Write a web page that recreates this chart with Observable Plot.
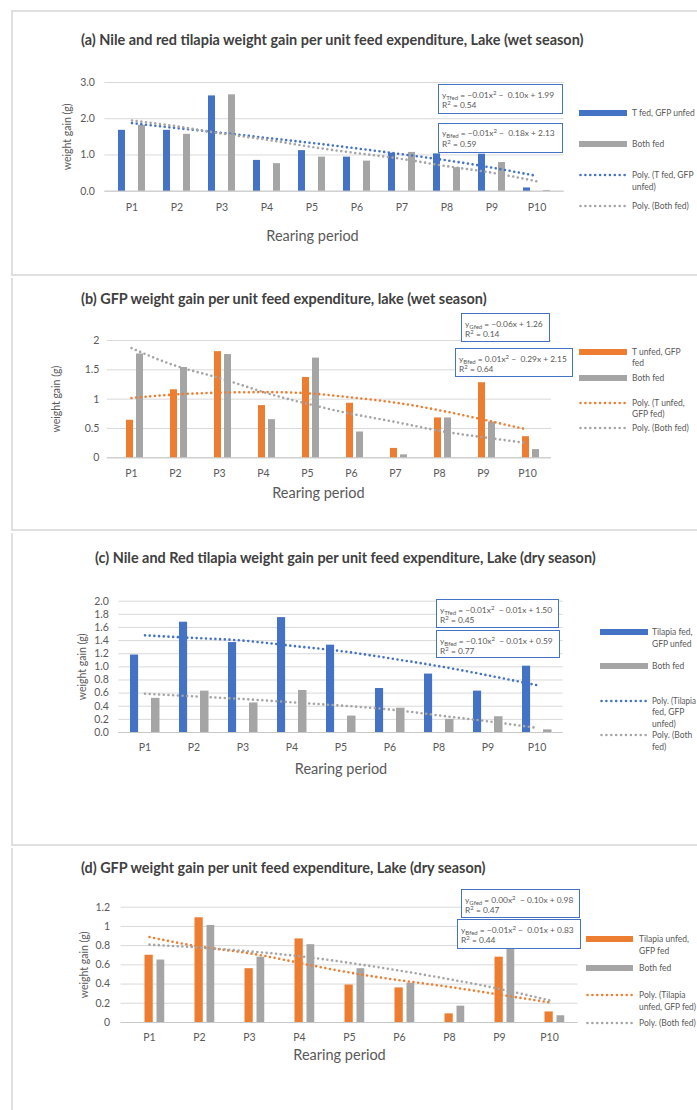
<!DOCTYPE html>
<html><head><meta charset="utf-8">
<script src="https://cdn.jsdelivr.net/npm/d3@7"></script>
<script src="https://cdn.jsdelivr.net/npm/@observablehq/plot@0.6"></script>
<style>
html,body{margin:0;padding:0;background:#fff;}
#page{position:relative;width:697px;height:1110px;overflow:hidden;font-family:Lato,"Open Sans",sans-serif;color:#595959;}
.panel{position:absolute;left:11px;width:720px;border-left:2px solid #e0e0e0;border-bottom:2px solid #e0e0e0;box-sizing:border-box;}
.title{position:absolute;font-weight:700;color:#404040;white-space:nowrap;line-height:16px;font-size:13px;}
.lg{position:absolute;white-space:nowrap;font-size:8.5px;line-height:12px;transform-origin:0 50%;}
.sw{position:absolute;height:6px;}
.eq{position:absolute;background:#fff;border:1.3px solid #4472c4;box-sizing:border-box;font-size:8.4px;line-height:10.5px;white-space:nowrap;padding:4.5px 0 0 3px;}
.eq sub{font-size:0.72em;vertical-align:-0.25em;line-height:0;}
.eq sup{font-size:0.72em;vertical-align:0.45em;line-height:0;}
</style></head><body><div id="page"></div>
<script>
// ---------- data ----------
const periodsWet = ["P1","P2","P3","P4","P5","P6","P7","P8","P9","P10"];
const periodsDry = ["P1","P2","P3","P4","P5","P6","P8","P9","P10"];

// (a) Nile and red tilapia, wet season
const aTfed      = [1.68,1.68,2.63,0.85,1.12,0.94,1.05,1.03,1.02,0.09];
const aBoth      = [1.82,1.57,2.66,0.76,0.94,0.83,1.07,0.65,0.79,0.02];
const aTfedTrend = [1.88,1.74,1.61,1.47,1.33,1.18,1.02,0.85,0.65,0.42];
const aBothTrend = [1.95,1.79,1.59,1.42,1.22,1.05,0.89,0.69,0.51,0.27];

// (b) GFP, wet season
const bGfed      = [0.64,1.16,1.81,0.89,1.37,0.93,0.16,0.68,1.28,0.36];
const bBoth      = [1.77,1.54,1.76,0.65,1.70,0.44,0.05,0.68,0.61,0.14];
const bGfedTrend = [1.02,1.08,1.11,1.12,1.10,1.03,0.94,0.81,0.65,0.48];
const bBothTrend = [1.87,1.57,1.36,1.12,0.92,0.75,0.61,0.46,0.35,0.25];

// (c) Nile and red tilapia, dry season
const cTfed      = [1.18,1.68,1.37,1.75,1.33,0.67,0.89,0.63,1.01];
const cBoth      = [0.52,0.63,0.45,0.64,0.25,0.37,0.20,0.24,0.04];
const cTfedTrend = [1.48,1.44,1.40,1.32,1.24,1.13,1.01,0.87,0.72];
const cBothTrend = [0.59,0.55,0.51,0.46,0.41,0.35,0.26,0.17,0.07];

// (d) GFP, dry season
const dGfed      = [0.70,1.09,0.56,0.87,0.39,0.36,0.09,0.68,0.11];
const dBoth      = [0.65,1.01,0.68,0.81,0.56,0.41,0.17,0.80,0.07];
const dGfedTrend = [0.89,0.79,0.72,0.62,0.52,0.44,0.37,0.29,0.21];
const dBothTrend = [0.81,0.78,0.74,0.69,0.62,0.54,0.45,0.35,0.23];

// tick values
const ticksA = [0,1,2,3];
const ticksB = [0,0.5,1,1.5,2];
const ticksC = [0,0.2,0.4,0.6,0.8,1.0,1.2,1.4,1.6,1.8,2.0];
const ticksD = [0,0.2,0.4,0.6,0.8,1,1.2];

// texts
const titles = [
  "(a) Nile and red tilapia weight gain per unit feed expenditure, Lake (wet season)",
  "(b) GFP weight gain per unit feed expenditure, lake (wet season)",
  "(c) Nile and Red tilapia weight gain per unit feed expenditure, Lake (dry season)",
  "(d) GFP weight gain per unit feed expenditure, Lake (dry season)"
];
const legendA = [["T fed, GFP unfed"],["Both fed"],["Poly. (T fed, GFP","unfed)"],["Poly. (Both fed)"]];
const legendB = [["T unfed, GFP","fed"],["Both fed"],["Poly. (T unfed,","GFP fed)"],["Poly. (Both fed)"]];
const legendC = [["Tilapia fed,","GFP unfed"],["Both fed"],["Poly. (Tilapia","fed, GFP","unfed)"],["Poly. (Both","fed)"]];
const legendD = [["Tilapia unfed,","GFP fed"],["Both fed"],["Poly. (Tilapia","unfed, GFP fed)"],["Poly. (Both fed)"]];
const eqA = [["y<sub>Tfed</sub> = −0.01x<sup>2</sup> −&nbsp; 0.10x + 1.99","R<sup>2</sup> = 0.54"],
             ["y<sub>Bfed</sub> = −0.01x<sup>2</sup> −&nbsp; 0.18x + 2.13","R<sup>2</sup> = 0.59"]];
const eqB = [["y<sub>Gfed</sub> = −0.06x + 1.26","R<sup>2</sup> = 0.14"],
             ["y<sub>Bfed</sub> = 0.01x<sup>2</sup> −&nbsp; 0.29x + 2.15","R<sup>2</sup> = 0.64"]];
const eqC = [["y<sub>Tfed</sub> = −0.01x<sup>2</sup>&nbsp; − 0.01x + 1.50","R<sup>2</sup> = 0.45"],
             ["y<sub>Bfed</sub> = −0.10x<sup>2</sup>&nbsp; − 0.01x + 0.59","R<sup>2</sup> = 0.77"]];
const eqD = [["y<sub>Gfed</sub> = 0.00x<sup>2</sup>&nbsp; − 0.10x + 0.98","R<sup>2</sup> = 0.47"],
             ["y<sub>Bfed</sub> = −0.01x<sup>2</sup> −&nbsp; 0.01x + 0.83","R<sup>2</sup> = 0.44"]];

// ---------- styling / layout ----------
const BLUE = "#4472c4", ORANGE = "#ed7d31", GRAY = "#a5a5a5";
const FONT = "Lato, 'Open Sans', sans-serif";

const panels = [
  {box:{top:10,h:266,topBorder:true}, title:titles[0], tx:81, ty:40, tw:503,
   cats:periodsWet, s1:aTfed, s2:aBoth, t1:aTfedTrend, t2:aBothTrend, c1:BLUE,
   yMax:3, ticks:ticksA, fmt:d=>d.toFixed(1),
   svgTop:60, svgH:190, x0:104.4, x1:563.6, yTop:82, yBot:190.7,
   ins1:[9,29], ins2:[29,9], padY:10, padX:12, ylabDx:-37, ylabDy:0, xlabDx:-22, xlabDy:45,
   legend:legendA, lgSw:[579,48], lgTx:632, lgY:[113.3,144,174.7,206], lgLH:12,
   eq:eqA, eqBox:[[438,84,125,30],[438,122.5,125,30.5]]},
  {box:{top:278,h:253}, title:titles[1], tx:81, ty:299, tw:406,
   cats:periodsWet, s1:bGfed, s2:bBoth, t1:bGfedTrend, t2:bBothTrend, c1:ORANGE,
   yMax:2, ticks:ticksB, fmt:d=>String(d),
   svgTop:320, svgH:185, x0:106.8, x1:551, yTop:340, yBot:457.3,
   ins1:[17,20], ins2:[27,10], padY:8, padX:12, ylabDx:-51, ylabDy:0, xlabDx:-11, xlabDy:36,
   legend:legendB, lgSw:[579,48], lgTx:632, lgY:[351.7,377.7,402.7,428], lgLH:11.5,
   eq:eqB, eqBox:[[461,313,89,29],[455,348,118,29]]},
  {box:{top:533,h:313}, title:titles[2], tx:95, ty:558, tw:501,
   cats:periodsDry, s1:cTfed, s2:cBoth, t1:cTfedTrend, t2:cBothTrend, c1:BLUE,
   yMax:2, ticks:ticksC, fmt:d=>d.toFixed(1),
   svgTop:580, svgH:200, x0:118.3, x1:562.7, yTop:600.7, yBot:732,
   ins1:[10,30.9], ins2:[31,9.5], padY:10, padX:11, ylabDx:-36, ylabDy:0, xlabDx:0, xlabDy:37,
   legend:legendC, lgSw:[600,48], lgTx:652, lgY:[632,665.7,700.7,735], lgLH:11.5,
   eq:eqC, eqBox:[[436,599,123,29],[436,630,124,28]]},
  {box:{top:848,h:300}, title:titles[3], tx:81, ty:868, tw:405,
   cats:periodsDry, s1:dGfed, s2:dBoth, t1:dGfedTrend, t2:dBothTrend, c1:ORANGE,
   yMax:1.2, ticks:ticksD, fmt:d=>String(d),
   svgTop:890, svgH:180, x0:120.6, x1:577.4, yTop:906.7, yBot:1022,
   ins1:[20.5,21.25], ins2:[32.5,9.75], padY:11, padX:11, ylabDx:-36, ylabDy:0, xlabDx:-10, xlabDy:33,
   legend:legendD, lgSw:[586,47], lgTx:639, lgY:[939.3,967.7,995,1023.3], lgLH:11.5,
   eq:eqD, eqBox:[[461,889,119,29],[457,919,124,30]]}
];

const page = document.getElementById("page");

function el(tag, cls, css, html) {
  const e = document.createElement(tag);
  if (cls) e.className = cls;
  Object.assign(e.style, css || {});
  if (html != null) e.innerHTML = html;
  page.appendChild(e);
  return e;
}

for (const P of panels) {
  // panel frame
  el("div", "panel", {top: P.box.top + "px", height: P.box.h + "px",
    borderTop: P.box.topBorder ? "2px solid #e0e0e0" : "none"});

  // title (fit to measured width)
  const t = el("div", "title", {left: P.tx + "px", top: (P.ty - 8) + "px"}, P.title);
  const w = t.getBoundingClientRect().width;
  t.style.fontSize = (13 * P.tw / w) + "px";

  // rows
  const bars1 = P.cats.map((p, i) => ({p, v: P.s1[i]}));
  const bars2 = P.cats.map((p, i) => ({p, v: P.s2[i]}));
  const tr1 = P.cats.map((p, i) => ({p, v: P.t1[i]}));
  const tr2 = P.cats.map((p, i) => ({p, v: P.t2[i]}));

  const dots = {strokeWidth: 2.6, strokeDasharray: "0 4.7", strokeLinecap: "round", curve: "natural"};

  const svg = Plot.plot({
    width: 697, height: P.svgH,
    marginLeft: P.x0, marginRight: 697 - P.x1,
    marginTop: P.yTop - P.svgTop, marginBottom: P.svgTop + P.svgH - P.yBot,
    style: {fontFamily: FONT, fontSize: "10px", color: "#595959", background: "transparent", overflow: "visible"},
    x: {domain: P.cats, padding: 0, label: null},
    y: {domain: [0, P.yMax], label: null},
    marks: [
      Plot.gridY(P.ticks, {stroke: "#d9d9d9", strokeOpacity: 1, strokeWidth: 1}),
      Plot.ruleY([0], {stroke: "#c8c8c8", strokeWidth: 1}),
      Plot.barY(bars1, {x: "p", y: "v", fill: P.c1, insetLeft: P.ins1[0], insetRight: P.ins1[1]}),
      Plot.barY(bars2, {x: "p", y: "v", fill: GRAY, insetLeft: P.ins2[0], insetRight: P.ins2[1]}),
      Plot.line(tr1, {x: "p", y: "v", stroke: P.c1, ...dots}),
      Plot.line(tr2, {x: "p", y: "v", stroke: GRAY, ...dots}),
      Plot.axisY(P.ticks, {tickSize: 0, tickPadding: P.padY, tickFormat: P.fmt, fontSize: 10.5, label: null}),
      Plot.axisX({tickSize: 0, tickPadding: P.padX, fontSize: 10.5, label: null}),
      Plot.text(["weight gain (g)"], {text: d => d, frameAnchor: "left", textAnchor: "middle", lineAnchor: "middle",
        rotate: -90, dx: P.ylabDx, dy: P.ylabDy, fontSize: 10.5, fill: "#595959"}),
      Plot.text(["Rearing period"], {text: d => d, frameAnchor: "bottom", textAnchor: "middle", lineAnchor: "middle",
        dx: P.xlabDx, dy: P.xlabDy, fontSize: 14.5, fill: "#595959"})
    ]
  });
  Object.assign(svg.style, {position: "absolute", left: "0px", top: P.svgTop + "px"});
  page.appendChild(svg);

  // legend
  const kinds = [["bar", P.c1], ["bar", GRAY], ["dot", P.c1], ["dot", GRAY]];
  kinds.forEach(([kind, col], i) => {
    const y = P.lgY[i];
    if (kind === "bar") {
      el("div", "sw", {left: P.lgSw[0] + "px", top: (y - 3) + "px", width: P.lgSw[1] + "px", background: col});
    } else {
      el("div", null, {position: "absolute", left: P.lgSw[0] + "px", top: (y - 3) + "px", width: P.lgSw[1] + "px", height: "6px"},
        `<svg width="${P.lgSw[1]}" height="6" style="display:block"><line x1="1.5" y1="3" x2="${P.lgSw[1]-1}" y2="3" stroke="${col}" stroke-width="2.6" stroke-dasharray="0 4.9" stroke-linecap="round"/></svg>`);
    }
    P.legend[i].forEach((line, j) => {
      const L = el("div", "lg", {left: P.lgTx + "px", top: (y - 6 + j * P.lgLH) + "px"}, line);
      const lw = L.getBoundingClientRect().width;
      const avail = 696 - P.lgTx;
      if (lw > avail) L.style.transform = `scaleX(${avail / lw})`;
    });
  });

  // equation boxes
  P.eqBox.forEach(([x, y, w2, h], i) => {
    el("div", "eq", {left: x + "px", top: y + "px", width: w2 + "px", height: h + "px"}, P.eq[i].join("<br>"));
  });
}
</script></body></html>
